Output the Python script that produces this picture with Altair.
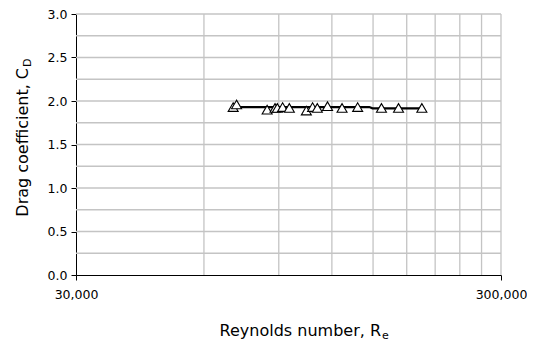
import altair as alt
import pandas as pd

# Measured data (Reynolds number vs drag coefficient)
re_vals = [70300, 71600, 84500, 88200, 89300, 91900, 95300, 104500,
           108100, 110900, 117200, 126800, 138000, 157000, 172200, 195400]
cd_vals = [1.93, 1.96, 1.90, 1.92, 1.92, 1.93, 1.92, 1.89,
           1.93, 1.92, 1.94, 1.92, 1.93, 1.92, 1.92, 1.92]

# Mean line
line_re = [71000, 147000, 149500, 196000]
line_cd = [1.93, 1.93, 1.916, 1.916]

# Grid / ticks
x_grid = [60000, 90000, 120000, 150000, 180000, 210000, 240000, 270000, 300000]
y_grid = [0.25, 0.5, 0.75, 1.0, 1.25, 1.5, 1.75, 2.0, 2.25, 2.5, 2.75, 3.0]
x_ticks = [30000, 300000]
y_ticks = [0.0, 0.5, 1.0, 1.5, 2.0, 2.5, 3.0]

x_title = ["Reynolds number, R"]
x_sub = ["e"]
y_title = ["Drag coefficient,  C"]
y_sub = ["D"]

FONT = "DejaVu Sans"
GRID = "#c4c4c4"

pts = pd.DataFrame({"Re": re_vals, "CD": cd_vals})
line = pd.DataFrame({"Re": line_re, "CD": line_cd})
xg = pd.DataFrame({"Re": x_grid})
yg = pd.DataFrame({"CD": y_grid})

xscale = alt.Scale(type="log", domain=[30000, 300000])
yscale = alt.Scale(domain=[0, 3.0])

xaxis = alt.Axis(values=x_ticks, format=",", grid=False, title=None,
                 labelPadding=8, tickSize=5, labelFlush=False)
yaxis = alt.Axis(values=y_ticks, format=".1f", grid=False, title=None,
                 labelPadding=4, tickSize=5)

vgrid = alt.Chart(xg).mark_rule(color=GRID, strokeWidth=1.3).encode(
    x=alt.X("Re:Q", scale=xscale, axis=xaxis))
hgrid = alt.Chart(yg).mark_rule(color=GRID, strokeWidth=1.3).encode(
    y=alt.Y("CD:Q", scale=yscale, axis=yaxis))

ln = alt.Chart(line).mark_line(color="black", strokeWidth=2.2).encode(
    x=alt.X("Re:Q", scale=xscale, axis=xaxis),
    y=alt.Y("CD:Q", scale=yscale, axis=yaxis))

mk = alt.Chart(pts).mark_point(shape="triangle-up", size=100, filled=True,
                               fill="white", stroke="black", strokeWidth=1.1,
                               opacity=1).encode(
    x=alt.X("Re:Q", scale=xscale, axis=xaxis),
    y=alt.Y("CD:Q", scale=yscale, axis=yaxis))

xt = alt.Chart(pd.DataFrame({"t": x_title})).mark_text(
    font=FONT, fontSize=16, align="right", baseline="alphabetic", color="black"
).encode(x=alt.value(305), y=alt.value(322), text="t:N")
xs = alt.Chart(pd.DataFrame({"t": x_sub})).mark_text(
    font=FONT, fontSize=11, align="left", baseline="alphabetic", color="black"
).encode(x=alt.value(306), y=alt.value(325), text="t:N")

yt = alt.Chart(pd.DataFrame({"t": y_title})).mark_text(
    font=FONT, fontSize=16, align="right", baseline="alphabetic", angle=270,
    color="black"
).encode(x=alt.value(-48), y=alt.value(54), text="t:N")
ys = alt.Chart(pd.DataFrame({"t": y_sub})).mark_text(
    font=FONT, fontSize=11, align="left", baseline="alphabetic", angle=270,
    color="black"
).encode(x=alt.value(-45), y=alt.value(53), text="t:N")

chart = alt.layer(vgrid, hgrid, ln, mk, xt, xs, yt, ys).properties(
    width=425, height=261,
    autosize=alt.AutoSizeParams(type="none"),
    padding={"left": 68, "top": 6, "right": 26, "bottom": 66},
    background="white",
).configure_view(stroke=None).configure_axis(
    domainColor="black", tickColor="black", labelColor="black",
    labelFont=FONT, labelFontSize=12.5, domainWidth=1, tickWidth=1,
)

chart.save("out.html", embed_options={"renderer": "svg", "actions": False})
